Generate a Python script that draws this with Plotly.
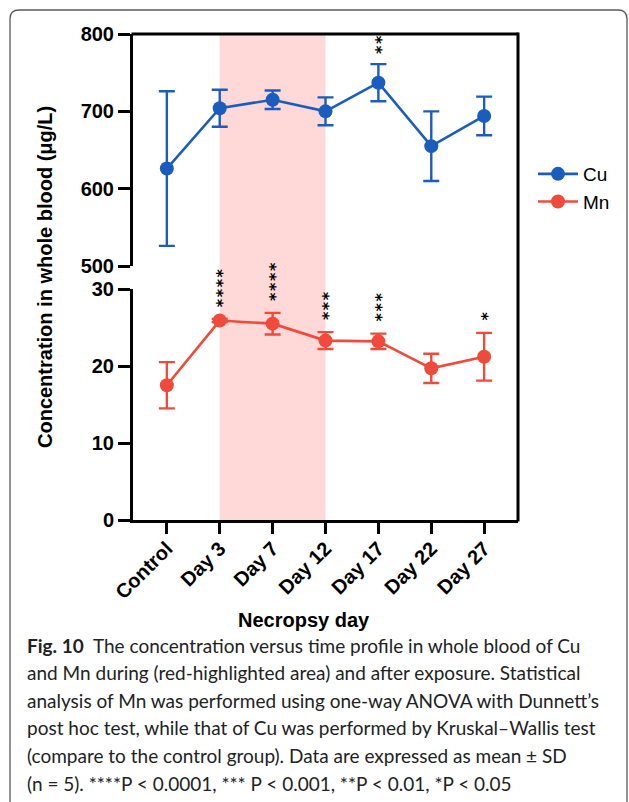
import plotly.graph_objects as go

# ---- data -------------------------------------------------------------
days = ["Control", "Day 3", "Day 7", "Day 12", "Day 17", "Day 22", "Day 27"]
cu_mean = [626, 704, 715, 700, 737, 655, 694]
cu_sd = [100, 24, 12, 18, 24, 45, 25]
mn_mean = [17.5, 25.9, 25.5, 23.3, 23.2, 19.7, 21.2]
mn_sd = [3.0, 0.2, 1.4, 1.1, 1.0, 1.9, 3.1]
cu_stars = ["", "", "", "", "**", "", ""]
mn_stars = ["", "****", "****", "***", "***", "", "*"]
exposure_window = ("Day 3", "Day 12")

mn_ticks = [0, 10, 20, 30]
cu_ticks = [500, 600, 700, 800]

W, H = 629, 802
BLUE = "#1B5DBE"
RED = "#EF4A3B"
PINK = "#FFD8D8"
AX_FONT = "Liberation Sans, Arial, sans-serif"
STAR_FONT = "DejaVu Sans, sans-serif"
CAP_FONT = "Lato, Open Sans, sans-serif"


def px(x):
    return x / W


def py(y):
    return 1 - y / H


x_idx = list(range(len(days)))
L, R = 133, 518
T_CU, B_CU = 34, 266
T_MN, B_MN = 289, 520

fig = go.Figure()

fig.add_trace(go.Scatter(
    x=x_idx, y=cu_mean, name="Cu", mode="lines+markers",
    xaxis="x", yaxis="y2",
    line=dict(color=BLUE, width=2.6),
    marker=dict(color=BLUE, size=14),
    error_y=dict(type="data", array=cu_sd, visible=True,
                 color=BLUE, thickness=2.4, width=8),
    cliponaxis=False,
))
fig.add_trace(go.Scatter(
    x=x_idx, y=mn_mean, name="Mn", mode="lines+markers",
    xaxis="x", yaxis="y",
    line=dict(color=RED, width=2.6),
    marker=dict(color=RED, size=14),
    error_y=dict(type="data", array=mn_sd, visible=True,
                 color=RED, thickness=2.4, width=8),
    cliponaxis=False,
))

shapes = []
# exposure period highlight spanning both panels
shapes.append(dict(
    type="rect", xref="x", yref="paper",
    x0=days.index(exposure_window[0]), x1=days.index(exposure_window[1]),
    y0=py(B_MN), y1=py(T_CU),
    fillcolor=PINK, line=dict(width=0), layer="below",
))
# frame: top and right edges
shapes.append(dict(type="line", xref="paper", yref="paper",
                   x0=px(L - 1.5), x1=px(R), y0=py(T_CU), y1=py(T_CU),
                   line=dict(color="black", width=3)))
shapes.append(dict(type="line", xref="paper", yref="paper",
                   x0=px(R), x1=px(R), y0=py(T_CU - 1.5), y1=py(B_MN + 1.5),
                   line=dict(color="black", width=3)))

# rounded outer border of the figure panel
r = 9
bx0, by0, bx1, by1 = 10, 10, 627, 812
path = (f"M {px(bx0)} {py(by1)} L {px(bx0)} {py(by0 + r)} "
        f"Q {px(bx0)} {py(by0)} {px(bx0 + r)} {py(by0)} "
        f"L {px(bx1 - r)} {py(by0)} "
        f"Q {px(bx1)} {py(by0)} {px(bx1)} {py(by0 + r)} "
        f"L {px(bx1)} {py(by1)}")
shapes.append(dict(type="path", xref="paper", yref="paper", path=path,
                   line=dict(color="#5a5a5a", width=1.3)))

annotations = []
star_font = dict(family=STAR_FONT, size=16, color="black", weight="bold")
HAIR = "\u200a"
# significance markers above the error bars
for i, s in enumerate(cu_stars):
    if s:
        annotations.append(dict(
            x=i, y=cu_mean[i] + cu_sd[i], xref="x", yref="y2",
            text=HAIR.join(s), textangle=-90, showarrow=False,
            yanchor="bottom", xanchor="center", yshift=8, xshift=3,
            font=star_font,
        ))
for i, s in enumerate(mn_stars):
    if s:
        annotations.append(dict(
            x=i, y=mn_mean[i] + mn_sd[i], xref="x", yref="y",
            text=HAIR.join(s), textangle=-90, showarrow=False,
            yanchor="bottom", xanchor="center", yshift=10, xshift=3,
            font=star_font,
        ))

# axis titles
annotations.append(dict(
    x=px(304), y=py(620), xref="paper", yref="paper",
    text="Necropsy day", showarrow=False, xanchor="center", yanchor="middle",
    font=dict(family=AX_FONT, size=20, color="black", weight="bold"),
))
annotations.append(dict(
    x=px(45), y=py(277), xref="paper", yref="paper",
    text="Concentration in whole blood (μg/L)", textangle=-90,
    showarrow=False, xanchor="center", yanchor="middle",
    font=dict(family=AX_FONT, size=20, color="black", weight="bold"),
))

# figure caption
caption = [
    "<b>Fig. 10</b>  The concentration versus time profile in whole blood of Cu",
    "and Mn during (red-highlighted area) and after exposure. Statistical",
    "analysis of Mn was performed using one-way ANOVA with Dunnett’s",
    "post hoc test, while that of Cu was performed by Kruskal–Wallis test",
    "(compare to the control group). Data are expressed as mean ± SD",
    "(n = 5). ****P < 0.0001, *** P < 0.001, **P < 0.01, *P < 0.05",
]
for k, line in enumerate(caption):
    annotations.append(dict(
        x=px(25), y=py(645 + 27.6 * k), xref="paper", yref="paper",
        text=line, showarrow=False, xanchor="left", yanchor="middle",
        font=dict(family=CAP_FONT, size=19, color="#222222"),
    ))

tick_font = dict(family=AX_FONT, size=20, color="black", weight="bold")
axis_common = dict(
    ticks="outside", tickwidth=3, tickcolor="black",
    showline=True, linewidth=3, linecolor="black",
    showgrid=False, zeroline=False, tickfont=tick_font, automargin=False,
)

fig.update_layout(
    width=W, height=H, autosize=False,
    margin=dict(l=0, r=0, t=0, b=0, pad=0),
    paper_bgcolor="white", plot_bgcolor="rgba(0,0,0,0)",
    shapes=shapes, annotations=annotations,
    showlegend=True,
    legend=dict(
        x=px(533), y=py(188), xanchor="left", yanchor="middle",
        font=dict(family=AX_FONT, size=19, color="black"),
        bgcolor="rgba(0,0,0,0)", itemwidth=40, tracegroupgap=0,
    ),
    xaxis=dict(
        domain=[px(L), px(R)], range=[-0.64, 6.64], anchor="y",
        tickmode="array", tickvals=x_idx, ticktext=days, tickangle=-45,
        ticklen=11, ticklabelstandoff=-5, **axis_common,
    ),
    yaxis=dict(
        domain=[py(B_MN), py(T_MN)], range=[0, 30], anchor="x",
        tickmode="array", tickvals=mn_ticks, ticklen=12, **axis_common,
    ),
    yaxis2=dict(
        domain=[py(B_CU), py(T_CU)], range=[500, 800], anchor="x",
        tickmode="array", tickvals=cu_ticks, ticklen=12, **axis_common,
    ),
)

fig.write_html("out.html")
